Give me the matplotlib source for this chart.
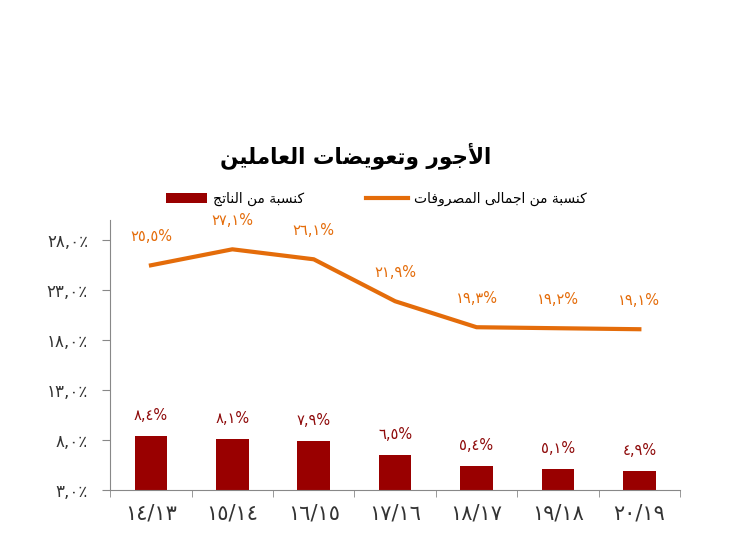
import matplotlib.pyplot as plt
import numpy as np

# data
years = ['١٤/١٣', '١٥/١٤', '١٦/١٥', '١٧/١٦', '١٨/١٧', '١٩/١٨', '٢٠/١٩']
share_expenses = [25.5, 27.1, 26.1, 21.9, 19.3, 19.2, 19.1]
share_gdp = [8.4, 8.1, 7.9, 6.5, 5.4, 5.1, 4.9]
yticks = [3, 8, 13, 18, 23, 28]

title = 'الأجور وتعويضات العاملين'
label_expenses = 'كنسبة من اجمالى المصروفات'
label_gdp = 'كنسبة من الناتج'

ORANGE = '#E46C0A'
DARKRED = '#990000'

# small arabic shaper (matplotlib does no shaping / rtl)
FORMS = {
    'ا': ('\ufe8d', '\ufe8e', None, None),
    'أ': ('\ufe83', '\ufe84', None, None),
    'ب': ('\ufe8f', '\ufe90', '\ufe91', '\ufe92'),
    'ة': ('\ufe93', '\ufe94', None, None),
    'ت': ('\ufe95', '\ufe96', '\ufe97', '\ufe98'),
    'ج': ('\ufe9d', '\ufe9e', '\ufe9f', '\ufea0'),
    'ر': ('\ufead', '\ufeae', None, None),
    'س': ('\ufeb1', '\ufeb2', '\ufeb3', '\ufeb4'),
    'ص': ('\ufeb9', '\ufeba', '\ufebb', '\ufebc'),
    'ض': ('\ufebd', '\ufebe', '\ufebf', '\ufec0'),
    'ع': ('\ufec9', '\ufeca', '\ufecb', '\ufecc'),
    'ف': ('\ufed1', '\ufed2', '\ufed3', '\ufed4'),
    'ك': ('\ufed9', '\ufeda', '\ufedb', '\ufedc'),
    'ل': ('\ufedd', '\ufede', '\ufedf', '\ufee0'),
    'م': ('\ufee1', '\ufee2', '\ufee3', '\ufee4'),
    'ن': ('\ufee5', '\ufee6', '\ufee7', '\ufee8'),
    'و': ('\ufeed', '\ufeee', None, None),
    'ى': ('\ufeef', '\ufef0', None, None),
    'ي': ('\ufef1', '\ufef2', '\ufef3', '\ufef4'),
    'لا': ('\ufefb', '\ufefc', None, None),
    'لأ': ('\ufef7', '\ufef8', None, None),
}


def shape(text):
    tokens = []
    i = 0
    while i < len(text):
        if text[i] == 'ل' and i + 1 < len(text) and text[i + 1] in 'اأ':
            tokens.append(text[i:i + 2])
            i += 2
        else:
            tokens.append(text[i])
            i += 1
    out = []
    for j, t in enumerate(tokens):
        if t not in FORMS:
            out.append(t)
            continue
        prev = tokens[j - 1] if j > 0 else ''
        nxt = tokens[j + 1] if j + 1 < len(tokens) else ''
        link_prev = prev in FORMS and FORMS[prev][2] is not None
        link_next = FORMS[t][2] is not None and nxt in FORMS
        if link_prev and link_next:
            out.append(FORMS[t][3])
        elif link_prev:
            out.append(FORMS[t][1])
        elif link_next:
            out.append(FORMS[t][2])
        else:
            out.append(FORMS[t][0])
    return ''.join(out)[::-1]


EAST = str.maketrans('0123456789', '٠١٢٣٤٥٦٧٨٩')


def fmt(v, pct='%'):
    return ('%.1f' % v).replace('.', ',').translate(EAST) + pct


plt.rcParams['font.family'] = ['DejaVu Sans']

fig = plt.figure(figsize=(7.4, 5.55), dpi=100)
ax = fig.add_axes([0.149, 0.117, 0.77, 0.486])

x = np.arange(len(years))
bars = ax.bar(x, np.array(share_gdp) - 3, bottom=3, width=0.4, color=DARKRED,
              label=shape(label_gdp))
line, = ax.plot(x, share_expenses, color=ORANGE, lw=3, label=shape(label_expenses))

for xi, v in zip(x, share_expenses):
    ax.annotate(fmt(v), (xi, v), xytext=(0, 21), textcoords='offset points',
                ha='center', va='center', color=ORANGE, fontsize=10.5)
for xi, v in zip(x, share_gdp):
    ax.annotate(fmt(v), (xi, v), xytext=(0, 15), textcoords='offset points',
                ha='center', va='center', color='#8E0A0A', fontsize=10.5)

ax.set_xlim(-0.5, len(years) - 0.5)
ax.set_ylim(3, 30)
ax.set_yticks(yticks)
ax.set_yticklabels([fmt(v, '٪') for v in yticks], fontsize=12, color='#333333')
ax.set_xticks(x)
ax.set_xticklabels(years, fontsize=15, color='#333333')
ax.tick_params(axis='x', length=0, pad=10)
ax.set_xticks(np.arange(len(years) + 1) - 0.5, minor=True)
ax.tick_params(axis='x', which='minor', length=5, color='#888888')
ax.tick_params(axis='y', length=6, color='#888888', pad=10)

for s in ['top', 'right']:
    ax.spines[s].set_visible(False)
for s in ['left', 'bottom']:
    ax.spines[s].set_color('#888888')

fig.text(0.48, 0.72, shape(title), ha='center', va='center', fontsize=15.5,
         fontweight='bold', color='black')
fig.legend(handles=[bars, line], loc='center', bbox_to_anchor=(0.508, 0.641),
           ncol=2, frameon=False, fontsize=10, handlelength=3.0,
           handletextpad=0.4, columnspacing=4.5)

fig.savefig('out.png', dpi=100)
